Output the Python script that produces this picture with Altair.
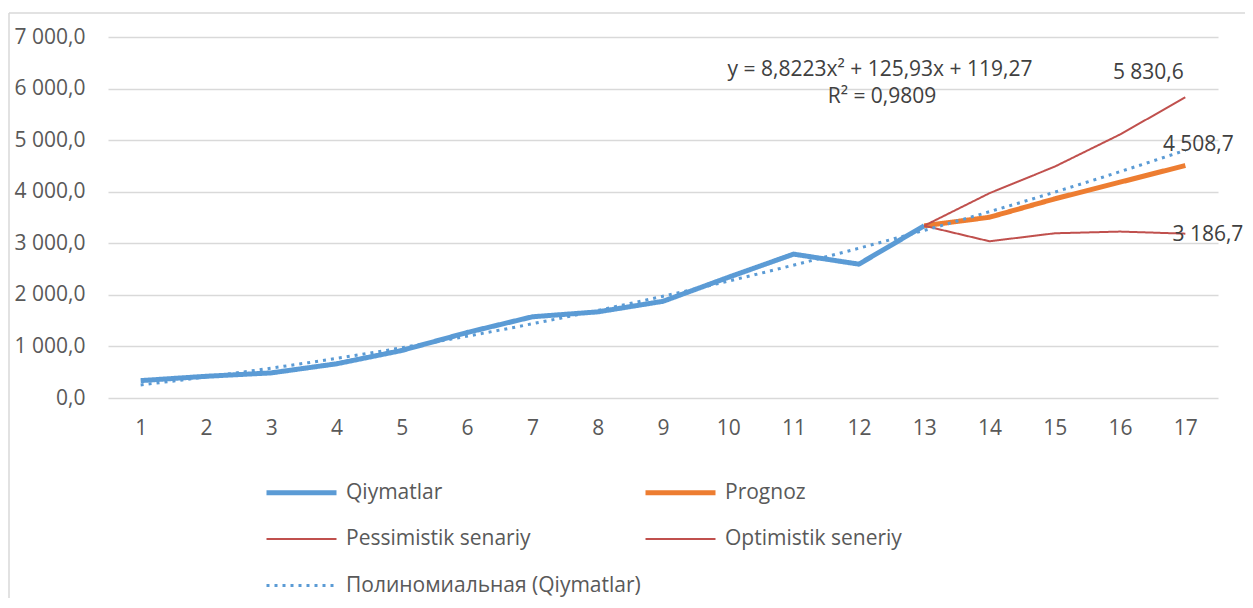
import altair as alt
import pandas as pd

# ---- data ----
x_hist = list(range(1, 14))
qiymatlar = [337, 421, 487, 663, 922, 1270, 1575, 1670, 1875, 2340, 2790, 2595, 3340]

x_fc = [13, 14, 15, 16, 17]
prognoz = [3340, 3505, 3862, 4185, 4508.7]
pessimistik = [3340, 3039, 3194, 3227, 3186.7]
optimistik = [3340, 3971, 4487, 5110, 5830.6]

series_names = ["Qiymatlar", "Prognoz", "Pessimistik senariy", "Optimistik seneriy",
                "Полиномиальная (Qiymatlar)"]
series_colors = ["#5B9BD5", "#ED7D31", "#C0504D", "#C0504D", "#5B9BD5"]
series_widths = [5, 5, 2, 2, 3]
series_dash = [[1, 0], [1, 0], [1, 0], [1, 0], [3, 5]]

y_ticks = [0, 1000, 2000, 3000, 4000, 5000, 6000, 7000]
x_ticks = list(range(1, 18))
eq_lines = ["y = 8,8223x² + 125,93x + 119,27", "R² = 0,9809"]

rows = []
for s, xs, ys in [("Qiymatlar", x_hist, qiymatlar), ("Prognoz", x_fc, prognoz),
                  ("Pessimistik senariy", x_fc, pessimistik),
                  ("Optimistik seneriy", x_fc, optimistik)]:
    for i, (xv, yv) in enumerate(zip(xs, ys)):
        rows.append({"series": s, "x": xv, "y": yv, "order": i})
df = pd.DataFrame(rows)

FONT = "Open Sans"
fmt_expr = "replace(replace(format(datum.y, ',.1f'), ',', ' '), '.', ',')"

x_enc = alt.X("x:Q", scale=alt.Scale(domain=[0.5, 17.5], nice=False, zero=False),
              axis=alt.Axis(values=x_ticks, format="d", ticks=False, tickSize=0, domain=False,
                            grid=False, labelPadding=19, labelFontSize=21, labelFont=FONT,
                            labelColor="#595959", title=None))
y_enc = alt.Y("y:Q", scale=alt.Scale(domain=[0, 7000], nice=False),
              axis=alt.Axis(values=y_ticks, ticks=False, tickSize=0, domain=False, grid=True,
                            gridColor="#D9D9D9", gridWidth=1.3, labelPadding=23,
                            labelFontSize=21, labelFont=FONT, labelColor="#595959",
                            labelExpr="replace(replace(format(datum.value, ',.1f'), ',', ' '), '.', ',')",
                            title=None))

legend = alt.Legend(title=None, orient="none", legendX=156, legendY=418, columns=2,
                    direction="horizontal",
                    symbolType="stroke", symbolSize=4900, labelFontSize=21, labelFont=FONT,
                    labelColor="#595959", labelOffset=7, columnPadding=-6, rowPadding=-2,
                    padding=0, labelLimit=400)

color_enc = alt.Color("series:N", scale=alt.Scale(domain=series_names, range=series_colors),
                      legend=legend)
width_enc = alt.StrokeWidth("series:N",
                            scale=alt.Scale(type="ordinal", domain=series_names, range=series_widths),
                            legend=legend)
dash_enc = alt.StrokeDash("series:N", scale=alt.Scale(domain=series_names, range=series_dash),
                          legend=legend)

base = alt.Chart(df)

lines = base.mark_line(strokeJoin="round").encode(
    x=x_enc, y=y_enc, color=color_enc, strokeWidth=width_enc, strokeDash=dash_enc,
    detail="series:N", order="order:Q")

trend = base.transform_filter(alt.datum.series == "Qiymatlar").transform_regression(
    "x", "y", method="poly", order=2, extent=[1, 17]
).transform_calculate(series="'Полиномиальная (Qiymatlar)'").mark_line(strokeCap="butt").encode(
    x="x:Q", y="y:Q", color=color_enc, strokeWidth=width_enc, strokeDash=dash_enc)

def label(series, dx, dy, align="center"):
    return base.transform_filter(
        (alt.datum.series == series) & (alt.datum.x == 17)
    ).transform_calculate(lbl=fmt_expr).mark_text(
        font=FONT, fontSize=21, color="#404040", dx=dx, dy=dy, align=align, baseline="middle"
    ).encode(x="x:Q", y="y:Q", text="lbl:N")

lab_opt = label("Optimistik seneriy", -37, -24)
lab_prog = label("Prognoz", 13, -20)
lab_pess = label("Pessimistik senariy", 58, 1, align="right")

eq_df = pd.DataFrame({"t": eq_lines})
eq1 = alt.Chart(eq_df).transform_filter(alt.datum.t == eq_lines[0]).mark_text(
    font=FONT, fontSize=21, color="#404040", align="center", baseline="middle"
).encode(x=alt.value(772), y=alt.value(33), text="t:N")
eq2 = alt.Chart(eq_df).transform_filter(alt.datum.t == eq_lines[1]).mark_text(
    font=FONT, fontSize=21, color="#404040", align="center", baseline="middle"
).encode(x=alt.value(774), y=alt.value(60), text="t:N")

frame_df = pd.DataFrame({"a": [0]})
border_top = alt.Chart(frame_df).mark_rule(color="#D9D9D9", strokeWidth=1.5).encode(
    x=alt.value(-99), x2=alt.value(1137), y=alt.value(-24))
border_left = alt.Chart(frame_df).mark_rule(color="#D9D9D9", strokeWidth=1.5).encode(
    x=alt.value(-99), y=alt.value(-24), y2=alt.value(561))

chart = alt.layer(border_top, border_left, lines, trend, lab_opt, lab_prog, lab_pess,
                  eq1, eq2).resolve_scale(
    color="shared", strokeWidth="shared", strokeDash="shared"
).properties(
    width=1110, height=361,
    padding={"left": 100, "top": 29, "right": 27, "bottom": 200},
    autosize="none",
    background="white"
).configure_view(stroke=None)

chart.save("out.html", embed_options={"renderer": "svg", "actions": False})
